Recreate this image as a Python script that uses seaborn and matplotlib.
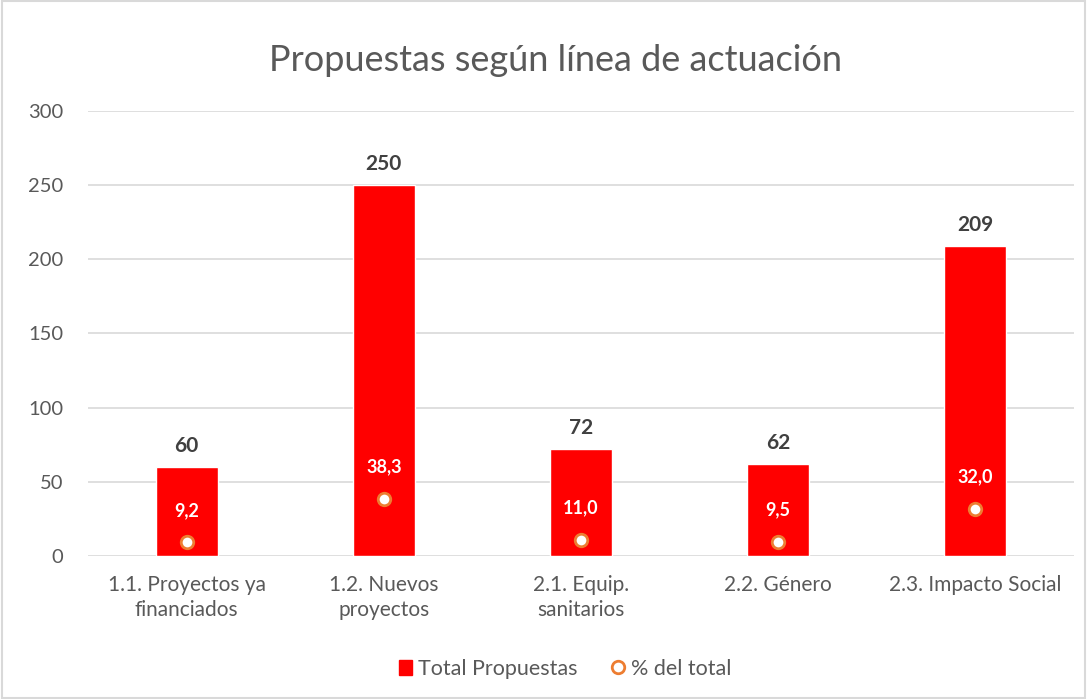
import matplotlib
matplotlib.use("Agg")
import matplotlib.pyplot as plt
import seaborn as sns
import pandas as pd
from matplotlib.lines import Line2D
from matplotlib.patches import Patch, Rectangle

# data
categories = ["1.1. Proyectos ya\nfinanciados", "1.2. Nuevos\nproyectos", "2.1. Equip.\nsanitarios",
              "2.2. Género", "2.3. Impacto Social"]
total_propuestas = [60, 250, 72, 62, 209]
pct_total = [9.2, 38.3, 11.0, 9.5, 32.0]

df = pd.DataFrame({"linea": categories, "total": total_propuestas, "pct": pct_total})

sns.set_theme(style="white")
plt.rcParams["font.family"] = ["Lato", "DejaVu Sans"]

text_grey = "#595959"
red = "#FF0000"
orange = "#ED7D31"

fig = plt.figure(figsize=(10.87, 6.99), dpi=100)
ax = fig.add_axes([0.081, 0.2046, 0.907, 0.6366])

sns.barplot(data=df, x="linea", y="total", color=red, width=0.315, saturation=1, ax=ax, zorder=2)
sns.pointplot(data=df, x="linea", y="pct", linestyle="none", marker="o", color=orange, ax=ax, zorder=3)
for ln in ax.lines:
    ln.set_markerfacecolor("white")
    ln.set_markeredgecolor(orange)
    ln.set_markeredgewidth(2)
    ln.set_markersize(9)

# value labels on top of the bars
ax.bar_label(ax.containers[0], labels=[str(v) for v in total_propuestas], padding=8,
             fontsize=15, fontweight="bold", color="#404040")

# percent labels above the markers
for i, p in enumerate(pct_total):
    ax.annotate(f"{p:.1f}".replace(".", ","), xy=(i, p), xytext=(0, 23), textcoords="offset points",
                ha="center", va="center", fontsize=13, fontweight="bold", color="white", zorder=4)

ax.set_ylim(0, 300)
ax.set_yticks(range(0, 301, 50))
ax.set_xlim(-0.5, 4.5)
ax.yaxis.grid(True, color="#d9d9d9", linewidth=1.2)
ax.set_axisbelow(True)
for s in ax.spines.values():
    s.set_visible(False)
ax.set_xlabel("")
ax.set_ylabel("")
ax.tick_params(axis="both", colors=text_grey, length=0)
ax.tick_params(axis="y", pad=18, labelsize=14.5)
ax.tick_params(axis="x", pad=14, labelsize=15)
for lbl in ax.get_xticklabels():
    lbl.set_linespacing(1.3)

fig.suptitle("Propuestas según línea de actuación", x=0.511, y=0.937, fontsize=26, color=text_grey)

handles = [Patch(facecolor=red, edgecolor=red),
           Line2D([], [], linestyle="none", marker="o", markerfacecolor="white",
                  markeredgecolor=orange, markeredgewidth=2, markersize=9)]
fig.legend(handles, ["Total Propuestas", "% del total"], loc="center", bbox_to_anchor=(0.52, 0.043),
           ncol=2, frameon=False, fontsize=15.5, labelcolor=text_grey, handlelength=0.6,
           handletextpad=0.3, columnspacing=1.6)

fig.patches.append(Rectangle((0.002, 0.002), 0.996, 0.996, transform=fig.transFigure,
                             fill=False, edgecolor="#d9d9d9", linewidth=1.5))

fig.savefig("out.png", dpi=100)
